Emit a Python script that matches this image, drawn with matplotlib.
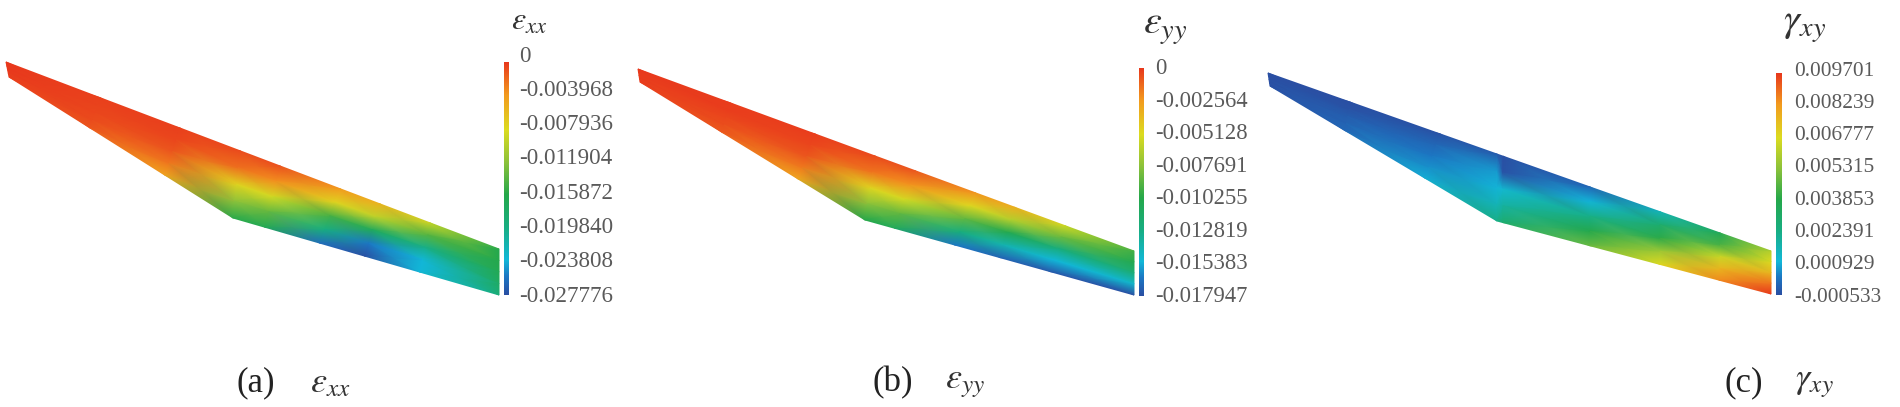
#!/usr/bin/env python3
import numpy as np
import matplotlib
matplotlib.use("Agg")
import matplotlib.pyplot as plt
from matplotlib.colors import LinearSegmentedColormap

## Data ##
labels_a = ["0", "-0.003968", "-0.007936", "-0.011904", "-0.015872", "-0.019840", "-0.023808", "-0.027776"]
labels_b = ["0", "-0.002564", "-0.005128", "-0.007691", "-0.010255", "-0.012819", "-0.015383", "-0.017947"]
labels_c = ["0.009701", "0.008239", "0.006777", "0.005315", "0.003853", "0.002391", "0.000929", "-0.000533"]

# columns run left to right, rows run top edge to bottom edge of the strip
strain_a = [[0.0000, -0.0001, -0.0001, -0.0002, -0.0003],
            [-0.0004, -0.0005, -0.0006, -0.0008, -0.0012],
            [-0.0004, -0.0006, -0.0012, -0.0025, -0.0045],
            [-0.0008, -0.0022, -0.0075, -0.0118, -0.0155],
            [-0.0010, -0.0035, -0.0085, -0.0135, -0.0165],
            [-0.0040, -0.0075, -0.0145, -0.0195, -0.0260],
            [-0.0055, -0.0095, -0.0170, -0.0255, -0.0277],
            [-0.0090, -0.0140, -0.0200, -0.0235, -0.0235],
            [-0.0160, -0.0160, -0.0165, -0.0175, -0.0190]]
strain_b = [[0.0000, -0.0001, -0.0001, -0.0001, -0.0001],
            [-0.0002, -0.0002, -0.0004, -0.0006, -0.0009],
            [-0.0002, -0.0004, -0.0008, -0.0017, -0.0030],
            [-0.0005, -0.0016, -0.0049, -0.0078, -0.0102],
            [-0.0008, -0.0024, -0.0055, -0.0088, -0.0110],
            [-0.0024, -0.0050, -0.0088, -0.0125, -0.0165],
            [-0.0034, -0.0065, -0.0105, -0.0140, -0.0172],
            [-0.0056, -0.0085, -0.0125, -0.0152, -0.0175],
            [-0.0095, -0.0105, -0.0122, -0.0148, -0.0179]]
strain_c = [[-0.0005, -0.0005, -0.0005, -0.0005, -0.0005],
            [-0.0005, -0.0004, -0.0002, -0.0001, 0.0000],
            [-0.0004, 0.0000, 0.0003, 0.0006, 0.0009],
            [-0.0002, 0.0007, 0.0010, 0.0016, 0.0024],
            [-0.0005, -0.0004, 0.0012, 0.0020, 0.0030],
            [0.0000, 0.0010, 0.0024, 0.0038, 0.0048],
            [0.0016, 0.0030, 0.0040, 0.0056, 0.0068],
            [0.0036, 0.0044, 0.0064, 0.0076, 0.0085],
            [0.0060, 0.0068, 0.0076, 0.0088, 0.0097]]

top_x_a = [6, 100, 180, 240, 280, 340, 380, 430, 499]
bot_x_a = [9, 90, 165, 233, 265, 320, 365, 420, 499]
top_x_b = [638, 730, 815, 875, 915, 975, 1015, 1065, 1134]
bot_x_b = [640, 722, 798, 865, 895, 955, 1000, 1050, 1134]
top_x_c = [1268, 1350, 1440, 1497, 1503, 1590, 1660, 1720, 1771]
bot_x_c = [1270, 1345, 1425, 1497, 1503, 1590, 1660, 1720, 1771]

top_edge_a = ([6, 499], [62, 249])
bot_edge_a = ([9, 233, 499], [77, 218, 295])
top_edge_b = ([638, 1134], [69, 251])
bot_edge_b = ([640, 865, 1134], [82, 220, 295])
top_edge_c = ([1268, 1771], [73, 251])
bot_edge_c = ([1270, 1497, 1771], [86, 221, 294])
## Data ##

plt.rcParams["font.family"] = ["Liberation Serif", "DejaVu Serif"]
plt.rcParams["mathtext.fontset"] = "stix"

cmap = LinearSegmentedColormap.from_list("contour", [
    (0.00, "#2a4fa3"), (0.08, "#1c78c4"), (0.15, "#12b8d8"), (0.29, "#18ae82"),
    (0.43, "#25a84a"), (0.57, "#8cc23a"), (0.71, "#dcdc20"), (0.86, "#f39a1e"),
    (1.00, "#e8381c")])

fig = plt.figure(figsize=(19, 4.07), dpi=100)
ax = fig.add_axes([0, 0, 1, 1])


def draw_strip(values, top_x, bot_x, top_edge, bot_edge):
    values = np.array(values)
    top_y = np.interp(top_x, top_edge[0], top_edge[1])
    bot_y = np.interp(bot_x, bot_edge[0], bot_edge[1])
    frac = np.linspace(0, 1, values.shape[1])
    xx = np.outer(top_x, 1 - frac) + np.outer(bot_x, frac)
    yy = np.outer(top_y, 1 - frac) + np.outer(bot_y, frac)
    ax.pcolormesh(xx, yy, values, shading="gouraud", cmap=cmap,
                  vmin=values.min(), vmax=values.max())


def draw_bar(x0, x1, y0, y1):
    grad = np.linspace(1, 0, 256).reshape(-1, 1)
    ax.imshow(grad, extent=(x0, x1, y1, y0), cmap=cmap, vmin=0, vmax=1, aspect="auto")


def draw_labels(labels, x, y0, y1, size):
    for lab, y in zip(labels, np.linspace(y0, y1, len(labels))):
        ax.text(x, y, lab, fontsize=size, color="#5a5a5a", ha="left", va="center")


draw_strip(strain_a, top_x_a, bot_x_a, top_edge_a, bot_edge_a)
draw_strip(strain_b, top_x_b, bot_x_b, top_edge_b, bot_edge_b)
draw_strip(strain_c, top_x_c, bot_x_c, top_edge_c, bot_edge_c)

draw_bar(504, 509, 62, 295)
draw_bar(1139, 1144, 68, 296)
draw_bar(1776, 1782, 73, 295)

draw_labels(labels_a, 519, 56, 296, 16.6)
draw_labels(labels_b, 1155, 69, 296, 16.3)
draw_labels(labels_c, 1794, 71, 297, 15.4)

# colour bar headings
ax.text(511, 22, r"$\varepsilon_{xx}$", fontsize=23, color="#333333", ha="left", va="center")
ax.text(1143, 28, r"$\varepsilon_{yy}$", fontsize=29, color="#333333", ha="left", va="center")
ax.text(1783, 26, r"$\gamma_{xy}$", fontsize=29, color="#333333", ha="left", va="center")

# captions
for x, tag, x_sym, sym in [(237, "(a)", 310, r"$\varepsilon_{xx}$"),
                           (873, "(b)", 945, r"$\varepsilon_{yy}$"),
                           (1725, "(c)", 1795, r"$\gamma_{xy}$")]:
    ax.text(x, 383, tag, fontsize=25, color="#222222", ha="left", va="center")
    ax.text(x_sym, 384, sym, fontsize=26, color="#333333", ha="left", va="center")

ax.set_xlim(0, 1900)
ax.set_ylim(407, 0)
ax.axis("off")

fig.savefig("out.png", dpi=100, facecolor="white")
